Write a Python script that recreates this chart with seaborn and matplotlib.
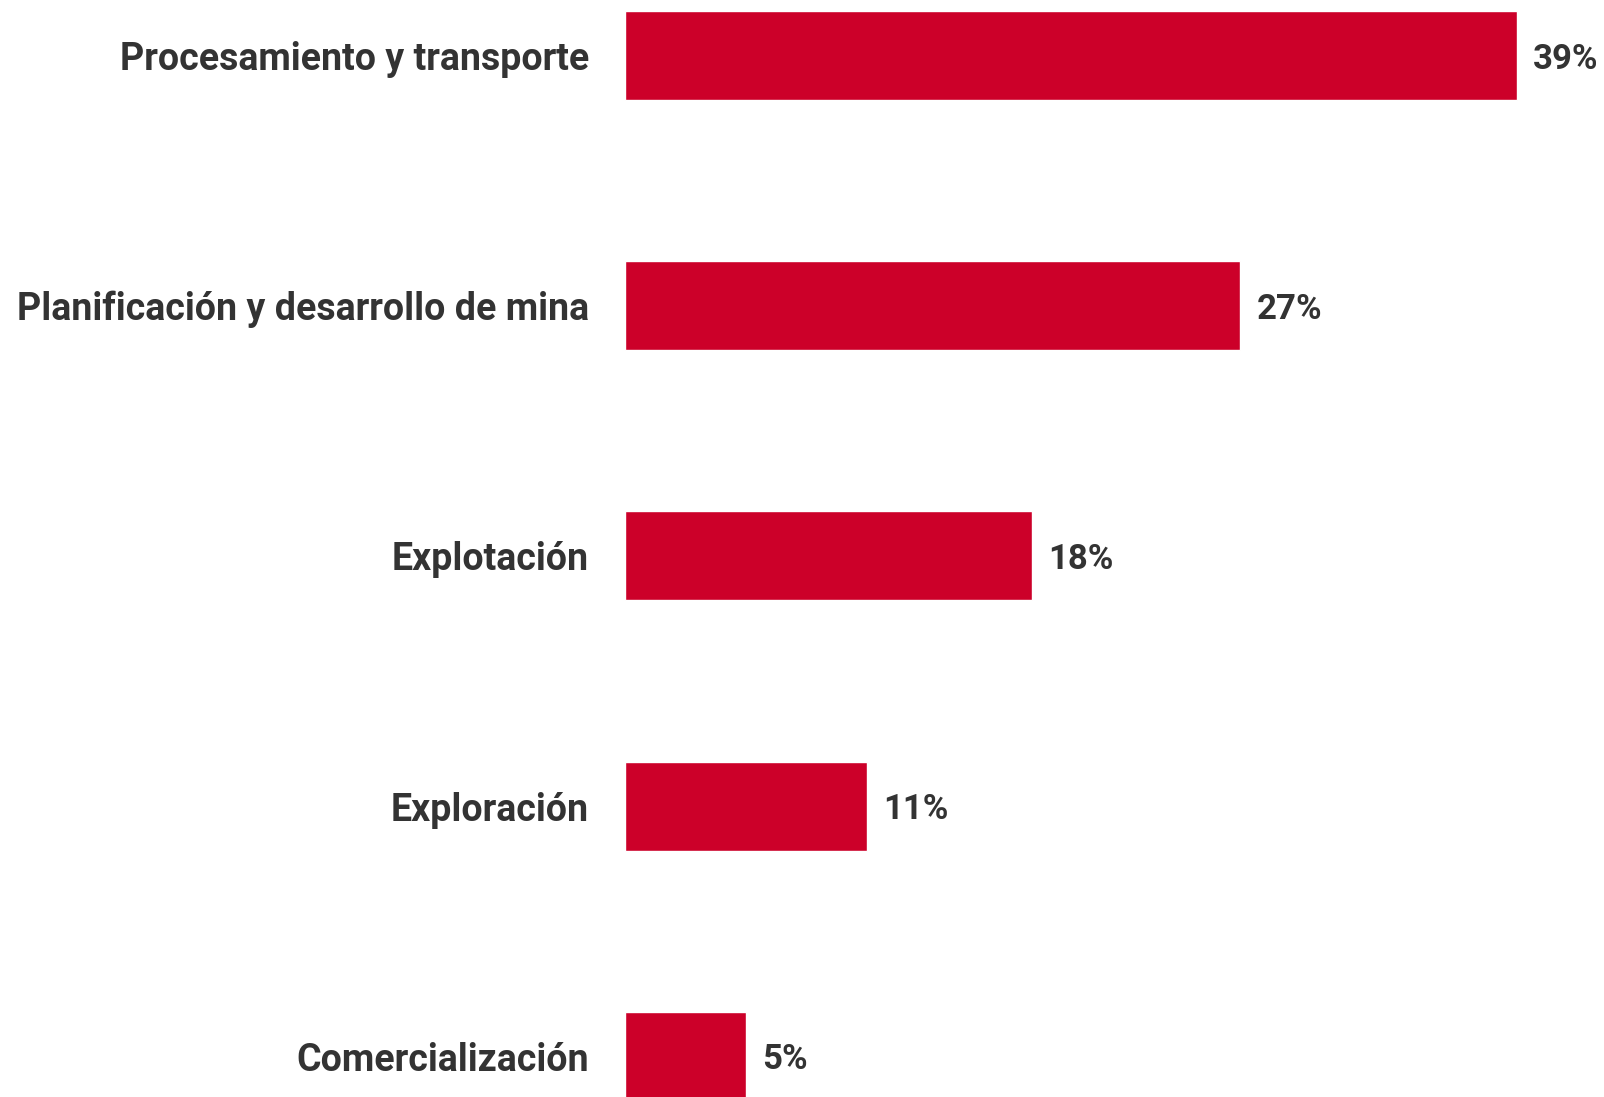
import pandas as pd
import matplotlib
matplotlib.use("Agg")
import matplotlib.pyplot as plt
import seaborn as sns

# Data
categories = [
    "Procesamiento y transporte",
    "Planificación y desarrollo de mina",
    "Explotación",
    "Exploración",
    "Comercialización",
]
shares = [39.0, 26.9, 17.8, 10.6, 5.3]

BAR_COLOR = "#CC0029"
TEXT_COLOR = "#333333"

sns.set_style("white")
plt.rcParams["font.family"] = ["Roboto", "DejaVu Sans"]

df = pd.DataFrame({"etapa": categories, "share": shares})

fig = plt.figure(figsize=(16.04, 10.97), dpi=100)
ax = fig.add_axes([625 / 1604, 0.0, 1 - 625 / 1604, 1.0])

sns.barplot(
    data=df, x="share", y="etapa", orient="h",
    color=BAR_COLOR, saturation=1, width=0.356, ax=ax,
)

ax.set_xlim(0, 42.8)
ax.set_ylim(4.163, -0.222)
ax.set_xlabel("")
ax.set_ylabel("")
ax.set_xticks([])
sns.despine(ax=ax, left=True, bottom=True)

ax.tick_params(axis="y", length=0, pad=26)
for lbl in ax.get_yticklabels():
    lbl.set_fontsize(27)
    lbl.set_fontweight("bold")
    lbl.set_color(TEXT_COLOR)
    lbl.set_verticalalignment("center_baseline")

texts = ax.bar_label(
    ax.containers[0],
    labels=[f"{v:.0f}%" for v in shares],
    padding=11.5, fontsize=25, fontweight="bold", color=TEXT_COLOR,
)
for t in texts:
    t.set_verticalalignment("center_baseline")

fig.savefig("out.png", dpi=100)
plt.close(fig)
